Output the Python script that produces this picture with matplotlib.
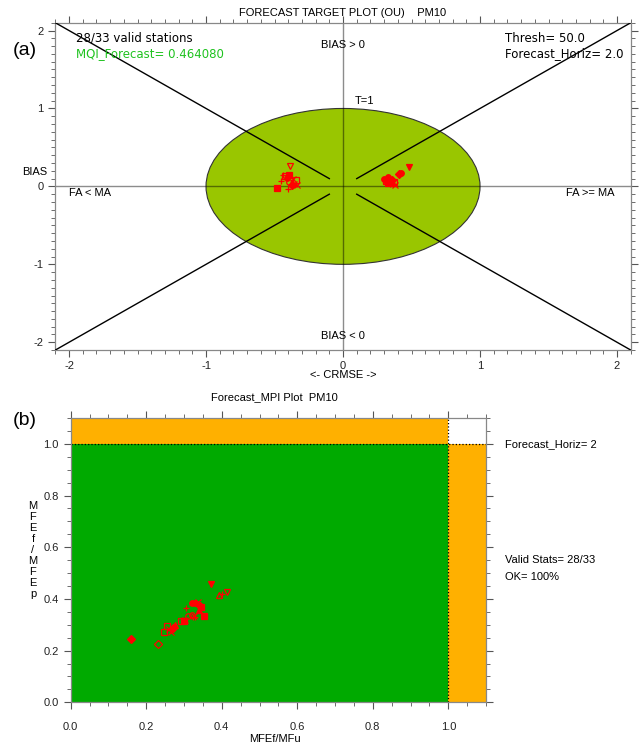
import matplotlib
matplotlib.use('Agg')
import matplotlib.pyplot as plt
from matplotlib.patches import Ellipse, Rectangle
from matplotlib.ticker import MultipleLocator, FormatStrFormatter
import numpy as np

plt.rcParams['font.family'] = ['Liberation Sans', 'DejaVu Sans']
plt.rcParams['axes.unicode_minus'] = False

# (a) target plot: CRMSE (x) vs BIAS (y), one marker per station
ou_x = [-0.385, -0.436, -0.455, -0.421, -0.392, -0.343, -0.397, -0.358, -0.482, -0.401,
        -0.338, -0.374, -0.411, -0.365, 0.482, 0.421, 0.410, 0.326, 0.311, 0.343,
        0.367, 0.380, 0.330, 0.355, 0.300, 0.340, 0.372, 0.318]
ou_y = [0.262, 0.148, 0.063, 0.135, 0.148, 0.076, 0.054, 0.029, -0.025, -0.034,
        0.021, 0.021, 0.114, 0.090, 0.245, 0.169, 0.160, 0.118, 0.068, 0.063,
        0.042, 0.021, 0.050, 0.085, 0.100, 0.030, 0.060, 0.080]
ou_mk = ['v', '+', '+', 's', 's', 's', 'o', 'x', 's', '+',
         'x', 'D', 'o', 'x', 'v', 'o', 'D', 'o', 's', 'x',
         '^', 'x', 's', 'D', 'o', '+', 's', '^']
ou_fill = [0, 0, 0, 0, 1, 0, 0, 0, 1, 0,
           0, 1, 1, 0, 1, 1, 1, 1, 0, 0,
           1, 0, 1, 1, 1, 0, 0, 1]

# (b) MPI plot: MFEf/MFu (x) vs MFEf/MFEp (y)
mpi_x = [0.160, 0.230, 0.247, 0.255, 0.265, 0.259, 0.272, 0.277, 0.292, 0.301,
         0.302, 0.306, 0.310, 0.320, 0.325, 0.327, 0.322, 0.328, 0.338, 0.341,
         0.346, 0.352, 0.372, 0.393, 0.400, 0.413, 0.330, 0.343]
mpi_y = [0.246, 0.227, 0.272, 0.294, 0.272, 0.283, 0.286, 0.298, 0.316, 0.315,
         0.319, 0.366, 0.334, 0.337, 0.329, 0.334, 0.383, 0.385, 0.388, 0.357,
         0.370, 0.334, 0.458, 0.414, 0.418, 0.426, 0.332, 0.372]
mpi_mk = ['D', 'D', 's', 's', 'x', 'x', 'D', '^', 's', 's',
          'x', '+', 'o', 'o', '+', 'x', 'o', 'o', 'x', '^',
          's', 's', 'v', '^', '+', 'v', '+', 'D']
mpi_fill = [1, 0, 0, 0, 0, 0, 1, 1, 0, 1,
            0, 0, 0, 0, 0, 0, 1, 1, 0, 1,
            1, 1, 1, 0, 0, 0, 0, 1]

n_valid, n_total = 28, 33
mqi = 0.464080
thresh = 50.0
horiz = 2

red = '#ff0000'
spine_col = '#888888'

fig = plt.figure(figsize=(6.41, 7.48), dpi=100)


def style_axes(ax):
    for s in ax.spines.values():
        s.set_color(spine_col)
        s.set_linewidth(0.9)
    ax.tick_params(which='both', direction='out', top=True, right=True,
                   color='#555555', labelsize=8, labelcolor='#222222')
    ax.tick_params(which='major', length=5)
    ax.tick_params(which='minor', length=3)


def draw_points(ax, xs, ys, mks, fills):
    for x, y, m, f in zip(xs, ys, mks, fills):
        face = red if (f and m not in ['+', 'x']) else 'none'
        ax.plot(x, y, marker=m, ms=4, mec=red, mfc=face, mew=0.9, ls='none',
                zorder=5, clip_on=False)


# ---- (a) target plot
ax1 = fig.add_axes([0.0863, 0.532, 0.8977, 0.4376])
ax1.set_xlim(-2.1, 2.1)
ax1.set_ylim(-2.1, 2.1)
ax1.add_patch(Ellipse((0, 0), 2, 2, facecolor='#99c600', edgecolor='#333333', lw=0.8, zorder=1))
ax1.axhline(0, color='k', alpha=0.45, lw=1, zorder=2)
ax1.axvline(0, color='k', alpha=0.45, lw=1, zorder=2)
for sx in [-1, 1]:
    for sy in [-1, 1]:
        ax1.plot([0.1 * sx, 2.1 * sx], [0.1 * sy, 2.1 * sy], color='k', lw=1, zorder=3)
draw_points(ax1, ou_x, ou_y, ou_mk, ou_fill)

style_axes(ax1)
ax1.xaxis.set_major_locator(MultipleLocator(1))
ax1.xaxis.set_minor_locator(MultipleLocator(0.1))
ax1.yaxis.set_major_locator(MultipleLocator(1))
ax1.yaxis.set_minor_locator(MultipleLocator(0.1))
ax1.tick_params(axis='x', pad=3)

ax1.text(0, 2.22, 'FORECAST TARGET PLOT (OU)    PM10', ha='center', va='center', fontsize=8, clip_on=False)
ax1.text(0, -2.42, '<- CRMSE ->', ha='center', va='center', fontsize=8, clip_on=False)
ax1.text(-2.25, 0.18, 'BIAS', ha='center', va='center', fontsize=8, clip_on=False)
ax1.text(-1.95, 1.9, '%d/%d valid stations' % (n_valid, n_total), fontsize=8.5,
         family='DejaVu Sans', va='center')
ax1.text(-1.95, 1.71, 'MQI_Forecast= %.6f' % mqi, fontsize=8.5, color='#1fc21f',
         family='DejaVu Sans', va='center')
ax1.text(1.18, 1.9, 'Thresh= %.1f' % thresh, fontsize=8.5, family='DejaVu Sans', va='center')
ax1.text(1.18, 1.71, 'Forecast_Horiz= %.1f' % horiz, fontsize=8.5, family='DejaVu Sans', va='center')
ax1.text(0, 1.82, 'BIAS > 0', ha='center', va='center', fontsize=8)
ax1.text(0, -1.92, 'BIAS < 0', ha='center', va='center', fontsize=8)
ax1.text(0.16, 1.09, 'T=1', ha='center', va='center', fontsize=8)
ax1.text(-2.0, -0.08, 'FA < MA', ha='left', va='center', fontsize=8)
ax1.text(1.98, -0.08, 'FA >= MA', ha='right', va='center', fontsize=8)
fig.text(0.039, 0.933, '(a)', fontsize=14, ha='center', va='center')

# ---- (b) MPI plot
ax2 = fig.add_axes([0.1103, 0.0611, 0.648, 0.38])
ax2.set_xlim(0, 1.1)
ax2.set_ylim(0, 1.1)
ax2.add_patch(Rectangle((0, 0), 1, 1, facecolor='#00aa00', edgecolor='none', zorder=1))
ax2.add_patch(Rectangle((0, 1), 1, 0.1, facecolor='#ffb000', edgecolor='none', zorder=1))
ax2.add_patch(Rectangle((1, 0), 0.1, 1, facecolor='#ffb000', edgecolor='none', zorder=1))
ax2.axhline(1, color='k', ls=':', lw=0.9, zorder=2)
ax2.axvline(1, color='k', ls=':', lw=0.9, zorder=2)
draw_points(ax2, mpi_x, mpi_y, mpi_mk, mpi_fill)

style_axes(ax2)
ax2.xaxis.set_major_locator(MultipleLocator(0.2))
ax2.xaxis.set_minor_locator(MultipleLocator(0.05))
ax2.yaxis.set_major_locator(MultipleLocator(0.2))
ax2.yaxis.set_minor_locator(MultipleLocator(0.05))
ax2.xaxis.set_major_formatter(FormatStrFormatter('%.1f'))
ax2.yaxis.set_major_formatter(FormatStrFormatter('%.1f'))
ax2.set_xticks([0, 0.2, 0.4, 0.6, 0.8, 1.0])
ax2.set_yticks([0, 0.2, 0.4, 0.6, 0.8, 1.0])
ax2.tick_params(axis='x', pad=9)

ax2.text(0.54, 1.182, 'Forecast_MPI Plot  PM10', ha='center', va='center', fontsize=8, clip_on=False)
ax2.text(0.54, -0.142, 'MFEf/MFu', ha='center', va='center', fontsize=8, clip_on=False)
ax2.text(-0.1, 0.59, '\n'.join('MFEf/MFEp'), ha='center', va='center', fontsize=8,
         linespacing=1.12, clip_on=False)
ax2.text(1.15, 1.0, 'Forecast_Horiz= %d' % horiz, fontsize=8, va='center', clip_on=False)
ax2.text(1.15, 0.55, 'Valid Stats= %d/%d' % (n_valid, n_total), fontsize=8, va='center', clip_on=False)
ax2.text(1.15, 0.486, 'OK= 100%', fontsize=8, va='center', clip_on=False)
fig.text(0.039, 0.438, '(b)', fontsize=14, ha='center', va='center')

fig.savefig('out.png', dpi=100)
